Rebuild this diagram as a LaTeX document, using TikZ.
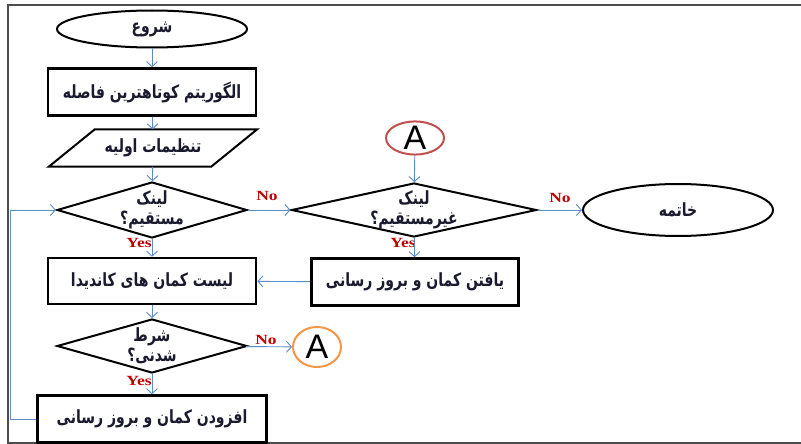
\documentclass[tikz,border=0pt]{standalone}
\usepackage{fontspec}
\usepackage{graphicx}
\usetikzlibrary{shapes.geometric,arrows.meta}
\newfontfamily\farsi[Script=Arabic]{DejaVu Sans}
\newfontfamily\romanfont{Liberation Serif}
\newfontfamily\arialfont{Liberation Sans}
\TeXXeTstate=1
\newcommand{\rtl}[1]{\scalebox{1}[1.3]{\beginR #1\endR}}
\definecolor{flowblue}{HTML}{5B8BC9}
\definecolor{labelred}{HTML}{C00000}
\definecolor{conred}{HTML}{C0504D}
\definecolor{conorange}{HTML}{F79646}
\definecolor{inkblue}{HTML}{1A1A2E}
\tikzset{
    fatext/.style={font=\farsi\bfseries\fontsize{14}{20}\selectfont, text=inkblue, align=center},
    terminal/.style={fatext, ellipse, draw, line width=2pt, inner sep=0pt},
    process/.style={fatext, rectangle, draw, line width=2.6pt, inner sep=0pt},
    decision/.style={diamond, draw, line width=2pt, inner sep=0pt},
    inout/.style={fatext, rectangle, inner sep=0pt},
    connector/.style={ellipse, draw, line width=2pt, inner sep=0pt, font=\arialfont\fontsize{34}{34}\selectfont},
    answer/.style={font=\romanfont\bfseries\fontsize{14}{14}\selectfont, text=labelred, inner sep=0pt, xscale=1.25},
    flow/.style={draw=flowblue, line width=0.9pt, -{Straight Barb[length=5pt,width=11pt]}}
}
\begin{document}
\begin{tikzpicture}[x=1pt,y=-1pt]
            \useasboundingbox (0,0) rectangle (801,444);
            \draw[line width=1.6pt, black!70] (801,5)--(8,5)--(8,443)--(801,443);
            \node[terminal, minimum width=190, minimum height=37] (start) at (152,29) {\rtl{شروع}};
            \node[process, minimum width=208, minimum height=47] (algo) at (152,92) {\rtl{الگوریتم کوتاهترین فاصله}};
            \node[inout, minimum width=208, minimum height=37] (init) at (153,148) {\rtl{تنظیمات اولیه}};
            \draw[line width=2pt] (init.south west) -- ([xshift=46pt]init.north west) -- (init.north east) -- ([xshift=-46pt]init.south east) -- cycle;
            \node[decision, minimum width=190, minimum height=56, label={[fatext]center:\rtl{لینک}\\\rtl{مستقیم؟}}] (direct) at (152,210) {};
            \node[decision, minimum width=245, minimum height=54, label={[fatext]center:\rtl{لینک}\\\rtl{غیرمستقیم؟}}] (indirect) at (414,210) {};
            \node[connector, draw=conred, minimum width=58, minimum height=30] (conA) at (415,138) {A};
            \node[terminal, minimum width=190, minimum height=52] (finish) at (678,210) {\rtl{خاتمه}};
            \node[process, minimum width=207, minimum height=47] (findarc) at (415,282) {\rtl{یافتن کمان و بروز رسانی}};
            \node[process, minimum width=208, minimum height=46] (cand) at (152,281) {\rtl{لیست کمان های کاندیدا}};
            \node[decision, minimum width=190, minimum height=54, label={[fatext]center:\rtl{شرط}\\\rtl{شدنی؟}}] (feas) at (152,346) {};
            \node[connector, draw=conorange, minimum width=48, minimum height=40] (conB) at (317,347) {A};
            \node[process, minimum width=229, minimum height=47] (addarc) at (152,419) {\rtl{افزودن کمان و بروز رسانی}};
            \node[answer] (noA) at (267,196) {No};
            \node[answer] (noB) at (560,198) {No};
            \node[answer] (noC) at (266,340) {No};
            \node[answer] (yesA) at (139,243) {Yes};
            \node[answer] (yesB) at (403,243) {Yes};
            \node[answer] (yesC) at (139,381) {Yes};
            \draw[flow] (start) -- (algo);
            \draw[flow] (algo) -- (init);
            \draw[flow] (init) -- (direct);
            \draw[flow] (direct) -- (indirect);
            \draw[flow] (conA) -- (indirect);
            \draw[flow] (indirect) -- (finish);
            \draw[flow] (indirect) -- (findarc);
            \draw[flow] (findarc) -- (cand);
            \draw[flow] (direct) -- (cand);
            \draw[flow] (cand) -- (feas);
            \draw[flow] (feas) -- (conB);
            \draw[flow] (feas) -- (addarc);
            \draw[flow] (addarc.west) -- ++(-26,0) |- (direct.west);
        \end{tikzpicture}
\end{document}
